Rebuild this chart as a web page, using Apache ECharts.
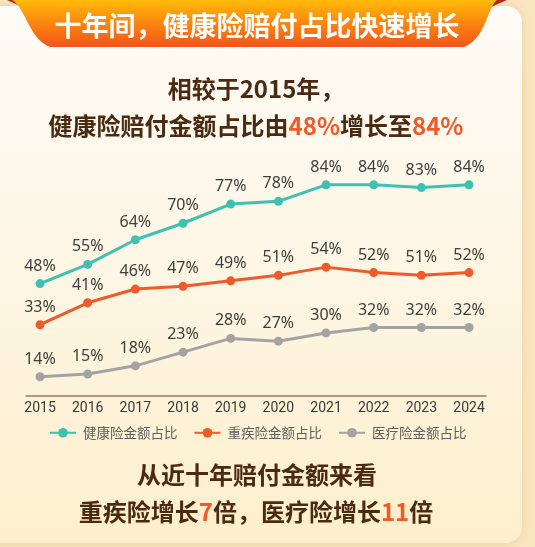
<!DOCTYPE html>
<html>
<head>
<meta charset="utf-8">
<script src="https://cdn.jsdelivr.net/npm/echarts@6/dist/echarts.min.js"></script>
<style>
html,body{margin:0;padding:0;background:#f9e5bf;}
#c{width:535px;height:547px;}
</style>
</head>
<body>
<div id="c"></div>
<script>
var years = [2015, 2016, 2017, 2018, 2019, 2020, 2021, 2022, 2023, 2024];
var healthShare = [48, 55, 64, 70, 77, 78, 84, 84, 83, 84];
var criticalShare = [33, 41, 46, 47, 49, 51, 54, 52, 51, 52];
var medicalShare = [14, 15, 18, 23, 28, 27, 30, 32, 32, 32];
var seriesNames = ['健康险金额占比', '重疾险金额占比', '医疗险金额占比'];
var seriesColors = ['#3ec1b1', '#ee5a28', '#a3a3a3'];

function pairs(vals) {
  return years.map(function (y, i) { return [y, vals[i]]; });
}

// banner outline (decoration) sampled from cubic curves
function cubic(p0, p1, p2, p3, n) {
  var out = [];
  for (var i = 0; i <= n; i++) {
    var t = i / n, u = 1 - t;
    out.push([
      u*u*u*p0[0] + 3*u*u*t*p1[0] + 3*u*t*t*p2[0] + t*t*t*p3[0],
      u*u*u*p0[1] + 3*u*u*t*p1[1] + 3*u*t*t*p2[1] + t*t*t*p3[1]
    ]);
  }
  return out;
}
var bannerPts = [[12, 0], [497, 0]]
  .concat(cubic([497, 0], [487, 8], [486, 38], [464, 47], 20))
  .concat(cubic([50, 47], [28, 38], [26, 8], [12, 0], 20));

var CJK = '"Noto Sans CJK SC", "Noto Sans", sans-serif';
var BROWN = '#4b2a12';
var HI = '#f05a28';

var chart = echarts.init(document.getElementById('c'), null, {renderer: 'canvas'});

var lineSeries = [healthShare, criticalShare, medicalShare].map(function (vals, k) {
  return {
    name: seriesNames[k],
    type: 'line',
    data: pairs(vals),
    symbol: 'circle',
    symbolSize: 9,
    lineStyle: {width: 3, color: seriesColors[k]},
    itemStyle: {color: seriesColors[k]},
    label: {
      show: true,
      position: 'top',
      distance: 5,
      formatter: function (p) { return p.value[1] + '%'; },
      color: '#3e3e3e',
      fontSize: 16,
      fontFamily: '"Noto Sans", sans-serif'
    },
    z: 3 - k
  };
});

chart.setOption({
  animation: false,
  backgroundColor: '#f9e5bf',
  grid: {left: 26, right: 49, top: 141, bottom: 151, containLabel: false},
  xAxis: {
    type: 'value',
    min: 2014.706,
    max: 2024.356,
    axisLine: {show: true, onZero: false, lineStyle: {color: '#8a7e6f', width: 1.5}},
    axisTick: {show: false},
    splitLine: {show: false},
    axisLabel: {
      customValues: years,
      formatter: function (v) { return String(v); },
      color: '#3a3a3a',
      fontSize: 14,
      margin: 5,
      fontFamily: '"Liberation Sans Narrow", "Roboto", sans-serif'
    }
  },
  yAxis: {
    type: 'value',
    min: 7,
    max: 100,
    show: false,
    splitLine: {show: false}
  },
  legend: {
    data: seriesNames,
    left: 49,
    top: 426,
    padding: 0,
    itemWidth: 26,
    itemHeight: 12,
    itemGap: 16,
    textStyle: {color: '#5f5f5f', fontSize: 13.5, fontFamily: CJK, padding: [0, 0, 0, 2]}
  },
  graphic: [
    {
      type: 'rect', z: -10, silent: true,
      shape: {x: -20, y: 6, width: 542, height: 537, r: 16},
      style: {
        fill: new echarts.graphic.LinearGradient(0, 0, 0, 1, [
          {offset: 0, color: '#fefbf6'},
          {offset: 0.5, color: '#fdf6e4'},
          {offset: 1, color: '#fdefcc'}
        ]),
        shadowBlur: 8, shadowColor: 'rgba(200,150,60,0.25)'
      }
    },
    {
      type: 'polygon', z: -9, silent: true,
      shape: {points: [[7, 0], [19, 0], [20, 6]]},
      style: {fill: '#b3262a'}
    },
    {
      type: 'polygon', z: -9, silent: true,
      shape: {points: [[491, 7], [495, 0], [507, 0]]},
      style: {fill: '#b3262a'}
    },
    {
      type: 'polygon', z: -8, silent: true,
      shape: {points: bannerPts},
      style: {
        fill: new echarts.graphic.LinearGradient(0, 0, 0, 1, [
          {offset: 0, color: '#ffba08'},
          {offset: 0.45, color: '#fb8a10'},
          {offset: 1, color: '#f4541a'}
        ])
      }
    },
    {
      type: 'text', z: 10, silent: true,
      style: {
        text: '十年间，健康险赔付占比快速增长',
        x: 257, y: 26, align: 'center', verticalAlign: 'middle',
        fill: '#ffffff', fontSize: 27, fontWeight: 'bold', fontFamily: CJK
      }
    },
    {
      type: 'text', z: 10, silent: true,
      style: {
        text: '相较于2015年，',
        x: 256, y: 89, align: 'center', verticalAlign: 'middle',
        fill: BROWN, fontSize: 24, fontWeight: 'bold', fontFamily: CJK
      }
    },
    {
      type: 'text', z: 10, silent: true,
      style: {
        text: '{a|健康险赔付金额占比由}{b|48%}{a|增长至}{b|84%}',
        x: 256, y: 126, align: 'center', verticalAlign: 'middle',
        rich: {
          a: {fill: BROWN, fontSize: 24, fontWeight: 'bold', fontFamily: CJK},
          b: {fill: HI, fontSize: 24, fontWeight: 'bold', fontFamily: CJK}
        }
      }
    },
    {
      type: 'text', z: 10, silent: true,
      style: {
        text: '从近十年赔付金额来看',
        x: 257, y: 475, align: 'center', verticalAlign: 'middle',
        fill: BROWN, fontSize: 24, fontWeight: 'bold', fontFamily: CJK
      }
    },
    {
      type: 'text', z: 10, silent: true,
      style: {
        text: '{a|重疾险增长}{b|7}{a|倍，医疗险增长}{b|11}{a|倍}',
        x: 256, y: 512, align: 'center', verticalAlign: 'middle',
        rich: {
          a: {fill: BROWN, fontSize: 24, fontWeight: 'bold', fontFamily: CJK},
          b: {fill: HI, fontSize: 24, fontWeight: 'bold', fontFamily: CJK}
        }
      }
    }
  ],
  series: lineSeries
});
</script>
</body>
</html>
